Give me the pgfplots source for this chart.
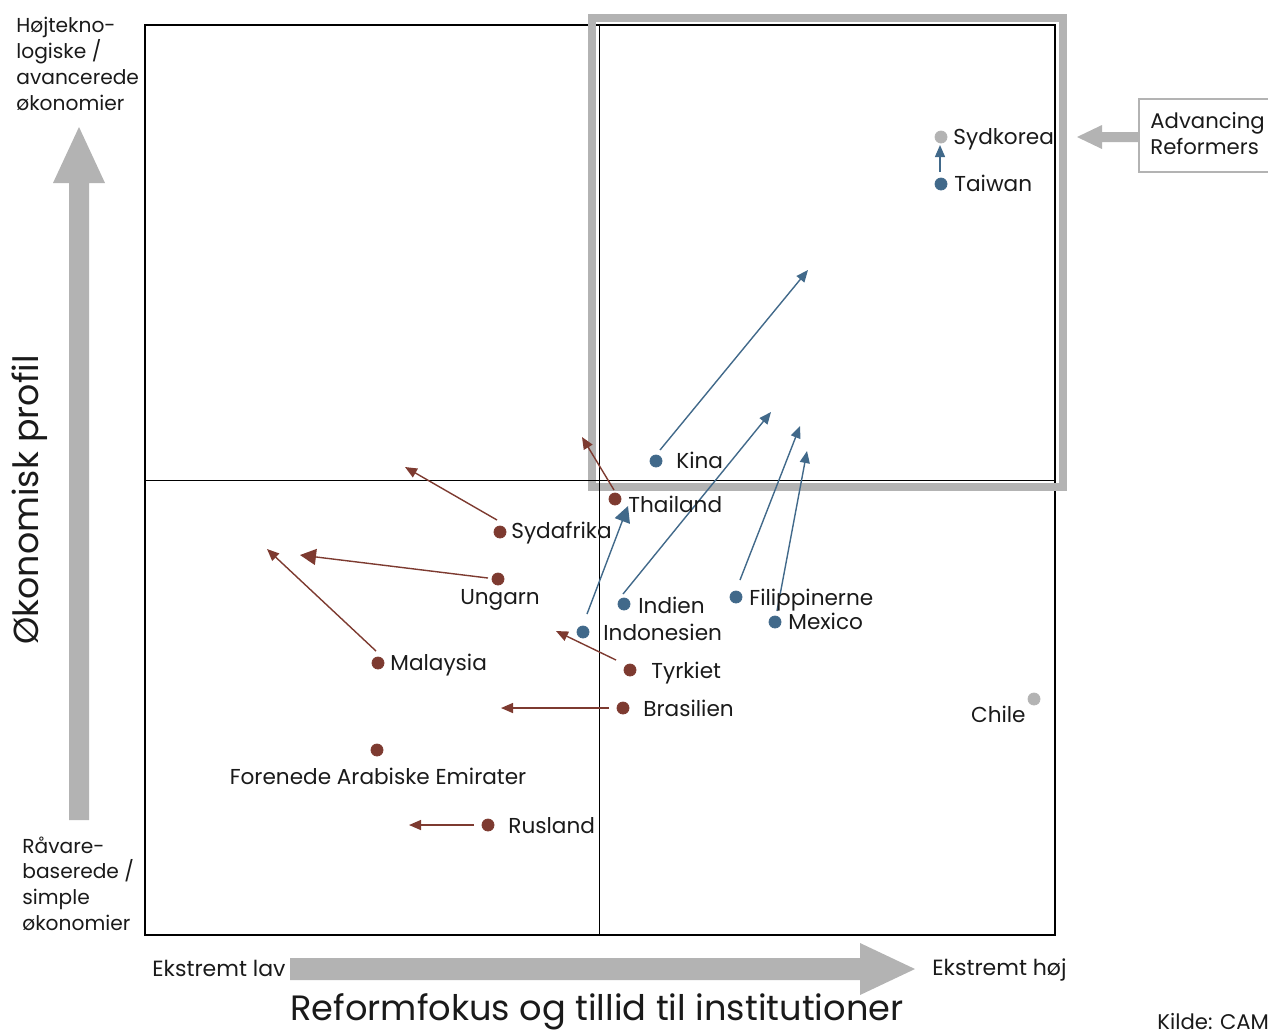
\documentclass[border=0pt]{standalone}
\usepackage{pgfplots}
\pgfplotsset{compat=1.18}
\usepackage{fontspec}
\setmainfont{Poppins}
\usetikzlibrary{arrows.meta}
\definecolor{cred}{HTML}{7D3A30}
\definecolor{cblue}{HTML}{41698A}
\definecolor{cgrey}{HTML}{B3B3B3}
\definecolor{ctext}{HTML}{1A1A1A}
\begin{document}
\begin{tikzpicture}[x=0.5pt,y=-0.5pt,
  lbl/.style={font=\fontsize{10.8}{12}\selectfont, text=ctext, inner sep=0pt, anchor=base west},
  side/.style={font=\fontsize{10.6}{12}\selectfont, text=ctext, inner sep=0pt, anchor=base west},
  corner/.style={font=\fontsize{10.1}{12}\selectfont, text=ctext, inner sep=0pt, anchor=base west}]
\useasboundingbox (0,0) rectangle (1268,1034);
\begin{axis}[at={(145,935)}, anchor=south west, width=455pt, height=455pt, scale only axis,
  xmin=145, xmax=1055, ymin=25, ymax=935, y dir=reverse,
  axis line style={line width=1pt}, xtick=\empty, ytick=\empty, clip=false]
% grey frame (Advancing Reformers)
\addplot[cgrey, line width=4pt, line join=miter] coordinates {(800,18) (1063,18) (1063,487) (592,487) (592,18) (820,18)};
% quadrant lines
\addplot[black, line width=0.5pt] coordinates {(599,25) (599,935)};
\addplot[black, line width=0.5pt] coordinates {(145,480) (1055,480)};
% arrows blue
\addplot[cblue, line width=0.7pt, -{Triangle[length=6pt,width=5pt]}] coordinates {(940,172) (940,145)};
\addplot[cblue, line width=0.7pt, -{Triangle[length=6pt,width=5pt]}] coordinates {(660,450) (808,270)};
\addplot[cblue, line width=0.7pt, -{Triangle[length=8pt,width=8pt]}] coordinates {(587,614) (628,506)};
\addplot[cblue, line width=0.7pt, -{Triangle[length=6pt,width=5pt]}] coordinates {(623,594) (771,412)};
\addplot[cblue, line width=0.7pt, -{Triangle[length=6pt,width=5pt]}] coordinates {(740,580) (800,426)};
\addplot[cblue, line width=0.7pt, -{Triangle[length=6pt,width=5pt]}] coordinates {(777,611) (807,451)};
% arrows red
\addplot[cred, line width=0.7pt, -{Triangle[length=6pt,width=5pt]}] coordinates {(614,490) (582,437)};
\addplot[cred, line width=0.7pt, -{Triangle[length=6pt,width=5pt]}] coordinates {(497,520) (405,467)};
\addplot[cred, line width=0.7pt, -{Triangle[length=8pt,width=8pt]}] coordinates {(488,578) (300,555)};
\addplot[cred, line width=0.7pt, -{Triangle[length=6pt,width=5pt]}] coordinates {(376,651) (267,549)};
\addplot[cred, line width=0.7pt, -{Triangle[length=6pt,width=5pt]}] coordinates {(616,660) (556,631)};
\addplot[cred, line width=0.7pt, -{Triangle[length=6pt,width=5pt]}] coordinates {(609,708) (501,708)};
\addplot[cred, line width=0.7pt, -{Triangle[length=6pt,width=5pt]}] coordinates {(474,825) (409,825)};
% points
\addplot[only marks, mark=*, mark size=3pt, cgrey, mark options={draw=cgrey, fill=cgrey}] coordinates {(941,137) (1034,699)};
\addplot[only marks, mark=*, mark size=3pt, cblue, mark options={draw=cblue, fill=cblue}] coordinates {(941,184) (656,461) (583,632) (624,604) (736,597) (775,622)};
\addplot[only marks, mark=*, mark size=3pt, cred, mark options={draw=cred, fill=cred}] coordinates {(615,499) (500,532) (498,579) (378,663) (630,670) (623,708) (377,750) (488,825)};
% labels
\node[lbl] at (axis cs:953,144) {Sydkorea};
\node[lbl] at (axis cs:954,191) {Taiwan};
\node[lbl] at (axis cs:676,468) {Kina};
\node[lbl] at (axis cs:628,512) {Thailand};
\node[lbl] at (axis cs:511,538) {Sydafrika};
\node[lbl, anchor=base] at (axis cs:500,604) {Ungarn};
\node[lbl] at (axis cs:390,670) {Malaysia};
\node[lbl] at (axis cs:638,613) {Indien};
\node[lbl] at (axis cs:603,640) {Indonesien};
\node[lbl] at (axis cs:749,605) {Filippinerne};
\node[lbl] at (axis cs:788,629) {Mexico};
\node[lbl] at (axis cs:651,678) {Tyrkiet};
\node[lbl] at (axis cs:643,716) {Brasilien};
\node[lbl, anchor=base] at (axis cs:378,784) {Forenede Arabiske Emirater};
\node[lbl] at (axis cs:508,833) {Rusland};
\node[lbl, anchor=base east] at (axis cs:1026,722) {Chile};
\end{axis}
% big grey arrows
\fill[cgrey] (69,820) -- (69,183) -- (53,183) -- (79,127) -- (105,183) -- (89,183) -- (89,820) -- cycle;
\fill[cgrey] (290,958) -- (860,958) -- (860,943) -- (915,969) -- (860,995) -- (860,980) -- (290,980) -- cycle;
\fill[cgrey] (1138,132) -- (1102,132) -- (1102,125) -- (1077,137) -- (1102,149) -- (1102,142) -- (1138,142) -- cycle;
\draw[cgrey, line width=1pt] (1139,99) rectangle (1300,172);
\node[side] at (1150,128) {Advancing};
\node[side] at (1150,154) {Reformers};
% side texts
\node[corner] at (16,32) {Højtekno-};
\node[corner] at (16,58) {logiske /};
\node[corner] at (16,84) {avancerede};
\node[corner] at (16,110) {økonomier};
\node[corner] at (22,853) {Råvare-};
\node[corner] at (22,878) {baserede /};
\node[corner] at (22,904) {simple};
\node[corner] at (22,930) {økonomier};
\node[side, font=\fontsize{11}{12}\selectfont] at (152,976) {Ekstremt lav};
\node[side, font=\fontsize{11}{12}\selectfont] at (932,975) {Ekstremt høj};
\node[side] at (1157,1029) {Kilde: CAM};
\node[font=\fontsize{17.6}{20}\selectfont, text=ctext, inner sep=0pt, anchor=base] at (597,1020) {Reformfokus og tillid til institutioner};
\node[font=\fontsize{17.4}{20}\selectfont, text=ctext, inner sep=0pt, anchor=base, rotate=90] at (39,500) {Økonomisk profil};
\end{tikzpicture}
\end{document}
